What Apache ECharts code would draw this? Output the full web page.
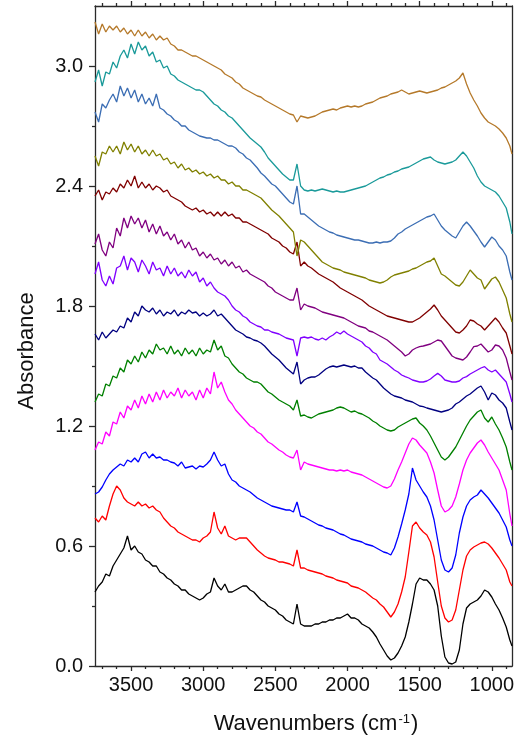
<!DOCTYPE html>
<html><head><meta charset="utf-8">
<script src="https://cdn.jsdelivr.net/npm/echarts@6/dist/echarts.min.js"></script>
<style>html,body{margin:0;padding:0;background:#fff}#c{width:520px;height:740px}</style>
</head><body><div id="c"></div>
<script>
const wavenumbers = [
3750,3725,3700,3675,3650,3625,3600,3575,3550,3525,
3500,3475,3450,3425,3400,3375,3350,3325,3300,3275,
3250,3225,3200,3175,3150,3125,3100,3075,3050,3025,
3000,2975,2950,2925,2900,2875,2850,2825,2800,2775,
2750,2725,2700,2675,2650,2625,2600,2575,2550,2525,
2500,2475,2450,2425,2400,2375,2350,2325,2300,2275,
2250,2225,2200,2175,2150,2125,2100,2075,2050,2025,
2000,1975,1950,1925,1900,1875,1850,1825,1800,1775,
1750,1725,1700,1675,1650,1625,1600,1575,1550,1525,
1500,1475,1450,1425,1400,1375,1350,1325,1300,1275,
1250,1225,1200,1175,1150,1125,1100,1075,1050,1025,
1000,975,950,925,900,875,860];

const sBlack = [
.37,.40,.42,.46,.45,.50,.53,.56,.59,.65,
.58,.60,.57,.56,.53,.52,.50,.50,.47,.46,
.44,.43,.41,.40,.38,.38,.36,.35,.34,.33,
.34,.36,.37,.44,.40,.38,.41,.37,.37,.38,
.39,.40,.40,.38,.37,.35,.33,.32,.30,.29,
.28,.26,.25,.23,.22,.21,.31,.21,.20,.20,
.20,.21,.21,.22,.22,.23,.23,.24,.24,.25,
.26,.24,.24,.23,.21,.20,.19,.17,.145,.11,
.08,.05,.03,.04,.065,.10,.145,.22,.31,.41,
.44,.43,.43,.41,.38,.30,.15,.045,.015,.01,
.02,.08,.21,.29,.31,.32,.33,.35,.38,.37,
.345,.31,.28,.24,.195,.13,.10];

const sRed = [
.74,.72,.75,.73,.80,.86,.90,.88,.84,.82,
.81,.80,.82,.80,.81,.79,.80,.78,.77,.74,
.72,.70,.69,.67,.66,.65,.64,.63,.63,.62,
.64,.65,.67,.77,.69,.66,.70,.65,.64,.63,
.64,.64,.64,.62,.60,.58,.565,.55,.54,.535,
.53,.52,.52,.515,.51,.50,.58,.49,.49,.48,
.475,.47,.465,.46,.45,.445,.44,.43,.425,.42,
.415,.40,.395,.39,.38,.37,.355,.34,.33,.31,
.295,.27,.245,.27,.31,.37,.445,.57,.70,.72,
.69,.67,.655,.62,.545,.42,.30,.24,.22,.23,
.28,.38,.48,.55,.58,.595,.605,.615,.62,.61,
.59,.565,.54,.51,.48,.42,.40];

const sBlue = [
.86,.87,.895,.93,.96,.98,.995,1.01,1.00,1.03,
1.02,1.04,1.02,1.06,1.07,1.04,1.06,1.04,1.045,1.03,
1.03,1.02,1.015,1.00,1.02,.99,.995,1.00,.985,1.00,
.995,1.01,1.03,1.07,1.03,1.00,1.01,.96,.93,.92,
.90,.89,.88,.87,.855,.84,.83,.82,.81,.80,
.795,.79,.785,.78,.78,.77,.82,.75,.745,.735,
.725,.715,.705,.70,.69,.685,.68,.67,.66,.655,
.645,.635,.63,.625,.62,.61,.605,.60,.59,.58,
.57,.565,.555,.59,.645,.71,.78,.86,.99,.93,
.90,.87,.845,.80,.73,.63,.53,.48,.47,.49,
.555,.665,.745,.80,.83,.845,.855,.88,.86,.84,
.815,.79,.765,.73,.695,.63,.60];

const sMagenta = [
1.08,1.12,1.11,1.17,1.15,1.22,1.21,1.27,1.24,1.30,
1.28,1.33,1.29,1.35,1.31,1.36,1.32,1.37,1.33,1.38,
1.34,1.37,1.35,1.39,1.34,1.38,1.35,1.37,1.33,1.38,
1.34,1.39,1.36,1.47,1.39,1.42,1.37,1.33,1.31,1.28,
1.26,1.24,1.22,1.20,1.19,1.17,1.16,1.14,1.12,1.11,
1.095,1.08,1.07,1.055,1.045,1.04,1.08,.98,1.02,1.01,
1.005,1.00,.995,.99,.985,.98,.98,.975,.98,.975,
.98,.97,.965,.96,.955,.945,.935,.925,.915,.905,
.895,.89,.90,.935,.98,1.02,1.065,1.11,1.14,1.13,
1.105,1.085,1.065,1.02,.965,.88,.80,.77,.78,.80,
.845,.91,.98,1.03,1.065,1.09,1.115,1.13,1.105,1.07,
1.04,1.01,.98,.93,.88,.76,.70];

const sGreen = [
1.32,1.36,1.35,1.41,1.40,1.45,1.44,1.49,1.47,1.53,
1.51,1.55,1.52,1.57,1.54,1.58,1.56,1.61,1.58,1.59,
1.56,1.60,1.56,1.58,1.55,1.59,1.56,1.58,1.55,1.59,
1.56,1.58,1.57,1.63,1.58,1.60,1.55,1.54,1.51,1.49,
1.47,1.46,1.44,1.43,1.42,1.42,1.41,1.39,1.37,1.36,
1.345,1.33,1.32,1.31,1.30,1.28,1.33,1.25,1.255,1.245,
1.24,1.25,1.26,1.265,1.27,1.275,1.28,1.29,1.295,1.29,
1.28,1.27,1.275,1.265,1.26,1.25,1.24,1.225,1.215,1.20,
1.19,1.18,1.175,1.18,1.195,1.205,1.215,1.225,1.235,1.24,
1.215,1.20,1.18,1.15,1.115,1.08,1.045,1.03,1.045,1.07,
1.095,1.13,1.165,1.20,1.23,1.25,1.27,1.28,1.24,1.22,
1.245,1.21,1.18,1.14,1.095,1.02,.98];

const sNavy = [
1.66,1.63,1.67,1.64,1.66,1.68,1.67,1.70,1.69,1.74,
1.72,1.77,1.75,1.80,1.78,1.77,1.79,1.76,1.78,1.75,
1.77,1.76,1.78,1.75,1.77,1.76,1.78,1.765,1.77,1.75,
1.765,1.75,1.76,1.78,1.75,1.76,1.74,1.72,1.70,1.68,
1.67,1.66,1.645,1.64,1.63,1.625,1.615,1.60,1.58,1.56,
1.545,1.53,1.51,1.49,1.475,1.46,1.52,1.41,1.43,1.44,
1.445,1.445,1.455,1.47,1.485,1.495,1.50,1.495,1.50,1.505,
1.50,1.495,1.50,1.49,1.49,1.47,1.455,1.44,1.43,1.41,
1.39,1.375,1.36,1.35,1.345,1.34,1.33,1.325,1.32,1.31,
1.30,1.297,1.29,1.285,1.28,1.275,1.27,1.275,1.28,1.29,
1.31,1.32,1.335,1.35,1.36,1.375,1.39,1.40,1.37,1.33,
1.365,1.355,1.33,1.315,1.29,1.22,1.18];

const sViolet = [
1.96,2.02,1.93,1.90,1.95,1.91,1.99,2.00,2.05,1.98,
2.04,2.02,1.97,2.03,2.00,1.96,2.02,1.98,1.99,1.95,
2.00,1.96,1.99,1.95,1.97,1.94,1.98,1.95,1.97,1.92,
1.94,1.90,1.92,1.89,1.87,1.86,1.85,1.83,1.80,1.78,
1.77,1.75,1.74,1.72,1.71,1.70,1.695,1.68,1.68,1.67,
1.665,1.66,1.65,1.64,1.635,1.63,1.55,1.64,1.645,1.64,
1.645,1.635,1.63,1.64,1.63,1.645,1.655,1.67,1.66,1.675,
1.66,1.65,1.64,1.63,1.62,1.60,1.59,1.57,1.56,1.53,
1.52,1.51,1.495,1.48,1.47,1.455,1.447,1.44,1.43,1.425,
1.42,1.42,1.425,1.435,1.45,1.463,1.45,1.43,1.425,1.42,
1.42,1.425,1.44,1.447,1.46,1.47,1.48,1.49,1.497,1.48,
1.47,1.48,1.46,1.44,1.42,1.36,1.32];

const sPurple = [
2.11,2.16,2.08,2.05,2.12,2.09,2.19,2.15,2.24,2.19,
2.25,2.21,2.24,2.19,2.23,2.17,2.21,2.16,2.20,2.15,
2.17,2.13,2.16,2.11,2.13,2.09,2.12,2.08,2.09,2.05,
2.07,2.04,2.06,2.03,2.04,2.01,2.03,2.00,2.02,1.99,
2.00,1.97,1.98,1.96,1.95,1.94,1.93,1.92,1.90,1.89,
1.87,1.86,1.85,1.84,1.83,1.83,1.89,1.78,1.81,1.80,
1.795,1.79,1.78,1.77,1.765,1.76,1.755,1.75,1.745,1.74,
1.73,1.72,1.71,1.70,1.695,1.69,1.675,1.67,1.66,1.65,
1.64,1.63,1.615,1.60,1.585,1.57,1.55,1.56,1.58,1.59,
1.597,1.60,1.605,1.61,1.62,1.63,1.625,1.60,1.575,1.55,
1.54,1.535,1.53,1.545,1.57,1.597,1.60,1.61,1.59,1.57,
1.58,1.605,1.60,1.58,1.54,1.47,1.43];

const sMaroon = [
2.35,2.38,2.33,2.37,2.36,2.39,2.37,2.41,2.39,2.43,
2.40,2.45,2.39,2.42,2.39,2.41,2.38,2.40,2.39,2.37,
2.38,2.35,2.34,2.33,2.32,2.30,2.29,2.28,2.29,2.27,
2.28,2.26,2.27,2.25,2.27,2.25,2.27,2.25,2.26,2.24,
2.24,2.22,2.22,2.21,2.20,2.19,2.18,2.17,2.16,2.14,
2.13,2.12,2.10,2.09,2.07,2.06,2.12,2.00,2.02,2.00,
1.99,1.975,1.96,1.95,1.94,1.93,1.92,1.905,1.89,1.88,
1.87,1.86,1.85,1.84,1.83,1.815,1.80,1.79,1.78,1.77,
1.76,1.75,1.745,1.74,1.735,1.73,1.725,1.72,1.72,1.73,
1.74,1.755,1.77,1.785,1.805,1.78,1.75,1.73,1.71,1.69,
1.67,1.665,1.68,1.70,1.73,1.725,1.71,1.70,1.68,1.70,
1.72,1.74,1.72,1.69,1.665,1.60,1.56];

const sOlive = [
2.55,2.50,2.57,2.56,2.60,2.57,2.60,2.56,2.62,2.58,
2.61,2.57,2.60,2.56,2.58,2.55,2.58,2.55,2.56,2.53,
2.54,2.51,2.52,2.49,2.51,2.48,2.49,2.47,2.48,2.46,
2.47,2.45,2.46,2.44,2.45,2.43,2.43,2.41,2.42,2.40,
2.40,2.38,2.38,2.37,2.36,2.35,2.34,2.32,2.30,2.28,
2.265,2.25,2.23,2.21,2.19,2.17,2.05,2.13,2.12,2.10,
2.08,2.06,2.04,2.02,2.01,2.00,1.99,1.985,1.98,1.97,
1.965,1.96,1.955,1.95,1.945,1.94,1.93,1.925,1.92,1.915,
1.92,1.93,1.945,1.955,1.96,1.965,1.97,1.975,1.985,1.99,
2.00,2.01,2.02,2.025,2.04,2.00,1.96,1.95,1.935,1.92,
1.905,1.90,1.92,1.95,1.98,1.96,1.94,1.93,1.885,1.91,
1.935,1.945,1.92,1.88,1.84,1.76,1.72];

const sSteel = [
2.77,2.72,2.81,2.79,2.83,2.86,2.82,2.90,2.85,2.89,
2.84,2.88,2.82,2.86,2.81,2.84,2.80,2.86,2.79,2.78,
2.76,2.75,2.73,2.72,2.70,2.70,2.68,2.67,2.66,2.65,
2.645,2.64,2.64,2.63,2.63,2.62,2.61,2.60,2.60,2.59,
2.57,2.56,2.54,2.53,2.51,2.49,2.465,2.45,2.43,2.41,
2.40,2.38,2.36,2.34,2.32,2.31,2.40,2.26,2.26,2.245,
2.23,2.215,2.20,2.19,2.18,2.17,2.165,2.155,2.15,2.145,
2.14,2.135,2.13,2.13,2.125,2.12,2.115,2.115,2.12,2.115,
2.12,2.12,2.125,2.14,2.16,2.17,2.185,2.195,2.205,2.215,
2.225,2.235,2.245,2.25,2.26,2.23,2.20,2.18,2.165,2.15,
2.14,2.17,2.20,2.22,2.20,2.175,2.15,2.12,2.095,2.12,
2.145,2.13,2.10,2.08,2.05,1.97,1.93];

const sTeal = [
2.92,2.98,2.90,2.97,2.96,3.02,2.99,3.05,3.08,3.04,
3.11,3.06,3.12,3.08,3.10,3.05,3.07,3.02,3.03,2.99,
3.00,2.96,2.95,2.93,2.92,2.91,2.90,2.89,2.88,2.88,
2.87,2.85,2.83,2.81,2.80,2.78,2.77,2.75,2.74,2.72,
2.70,2.68,2.66,2.64,2.625,2.61,2.595,2.57,2.54,2.52,
2.50,2.48,2.46,2.445,2.43,2.43,2.51,2.40,2.38,2.375,
2.38,2.375,2.38,2.385,2.38,2.375,2.37,2.375,2.37,2.37,
2.375,2.38,2.385,2.39,2.395,2.40,2.41,2.42,2.43,2.44,
2.445,2.455,2.46,2.47,2.475,2.485,2.49,2.495,2.505,2.515,
2.525,2.535,2.54,2.545,2.53,2.52,2.515,2.51,2.515,2.52,
2.53,2.55,2.57,2.55,2.52,2.49,2.45,2.42,2.40,2.39,
2.38,2.37,2.35,2.32,2.29,2.22,2.16];

const sBrown = [
3.22,3.16,3.21,3.17,3.20,3.18,3.20,3.17,3.19,3.16,
3.18,3.15,3.18,3.15,3.17,3.14,3.16,3.13,3.15,3.13,
3.14,3.11,3.10,3.08,3.08,3.07,3.06,3.05,3.05,3.04,
3.03,3.02,3.01,3.00,2.99,2.98,2.96,2.95,2.94,2.92,
2.91,2.89,2.88,2.87,2.86,2.85,2.845,2.83,2.82,2.81,
2.80,2.79,2.78,2.77,2.76,2.755,2.72,2.75,2.745,2.74,
2.745,2.75,2.76,2.77,2.775,2.78,2.785,2.78,2.79,2.795,
2.80,2.795,2.80,2.795,2.80,2.81,2.815,2.82,2.83,2.84,
2.845,2.85,2.86,2.865,2.87,2.88,2.87,2.86,2.865,2.87,
2.875,2.87,2.865,2.87,2.875,2.88,2.89,2.895,2.905,2.915,
2.925,2.94,2.965,2.91,2.865,2.83,2.80,2.765,2.74,2.72,
2.71,2.70,2.685,2.665,2.64,2.60,2.56];

const seriesValues = [sBlack, sRed, sBlue, sMagenta, sGreen, sNavy, sViolet, sPurple, sMaroon, sOlive, sSteel, sTeal, sBrown];
const seriesNames = ['1','2','3','4','5','6','7','8','9','10','11','12','13'];
const seriesColors = ['#000000','#ff0000','#0000ff','#ff00ff','#008000','#000080','#8000ff','#800080','#800000','#808000','#3c6eb4','#1a9a9a','#b5792a'];

const xMajorTicks = [1000,1500,2000,2500,3000,3500];
const xMinorTicks = [900,1100,1200,1300,1400,1600,1700,1800,1900,2100,2200,2300,2400,2600,2700,2800,2900,3100,3200,3300,3400,3600,3700];
const yMajorTicks = [0,0.6,1.2,1.8,2.4,3.0];
const yMinorTicks = [0.3,0.9,1.5,2.1,2.7];

const X_MIN = 860, X_MAX = 3750, Y_MIN = 0, Y_MAX = 3.3;
const FONT = '"Liberation Sans", Arial, sans-serif';
const AX = {color:'#2a2a2a', width:1.3};

function xAx(pos, ticks, len, showLine, labels, extra){
  return Object.assign({
    type:'value', inverse:true, min:X_MIN, max:X_MAX, position:pos,
    axisLine:{show:showLine, onZero:false, lineStyle:AX},
    axisTick:{show:true, inside:false, length:len, customValues:ticks, lineStyle:AX},
    axisLabel:{show:labels, customValues:ticks, margin:9, fontSize:20, color:'#111', fontFamily:FONT,
      formatter:v=>String(Math.round(v))},
    splitLine:{show:false}
  }, extra||{});
}
function yAx(pos, ticks, len, showLine, labels, extra){
  return Object.assign({
    type:'value', min:Y_MIN, max:Y_MAX, position:pos,
    axisLine:{show:showLine, onZero:false, lineStyle:AX},
    axisTick:{show:ticks!==null, inside:false, length:len, customValues:ticks||[], lineStyle:AX},
    axisLabel:{show:labels, customValues:ticks||[], margin:12, fontSize:20, color:'#111', fontFamily:FONT,
      formatter:v=>Number(v).toFixed(1)},
    splitLine:{show:false}
  }, extra||{});
}

const chart = echarts.init(document.getElementById('c'));
chart.setOption({
  animation:false,
  backgroundColor:'#fff',
  grid:{left:95, right:8, top:6, bottom:74, containLabel:false},
  xAxis:[
    xAx('bottom', xMajorTicks, 5, true, true, {
      name:'Wavenumbers (cm{sup|-1})', nameLocation:'middle', nameGap:47,
      nameTextStyle:{fontSize:22, color:'#111', fontFamily:FONT, padding:[0,0,0,25],
        rich:{sup:{fontSize:13, color:'#111', fontFamily:FONT, verticalAlign:'top', padding:[0,1,8,1]}}}
    }),
    xAx('bottom', xMinorTicks, 3, false, false),
    xAx('top', xMajorTicks, 5, true, false),
    xAx('top', xMinorTicks, 3, false, false)
  ],
  yAxis:[
    yAx('left', yMajorTicks, 6, true, true, {
      name:'Absorbance', nameLocation:'middle', nameGap:57,
      nameTextStyle:{fontSize:22, color:'#111', fontFamily:FONT, padding:[0,30,0,0]}
    }),
    yAx('left', yMinorTicks, 3, false, false),
    yAx('right', null, 0, true, false)
  ],
  series: seriesValues.map((vals, k) => ({
    name: seriesNames[k], type:'line', xAxisIndex:0, yAxisIndex:0,
    showSymbol:false, symbol:'none', smooth:false,
    lineStyle:{color:seriesColors[k], width:1.3},
    data: wavenumbers.map((w, i) => [w, vals[i]])
  }))
});
</script></body></html>
